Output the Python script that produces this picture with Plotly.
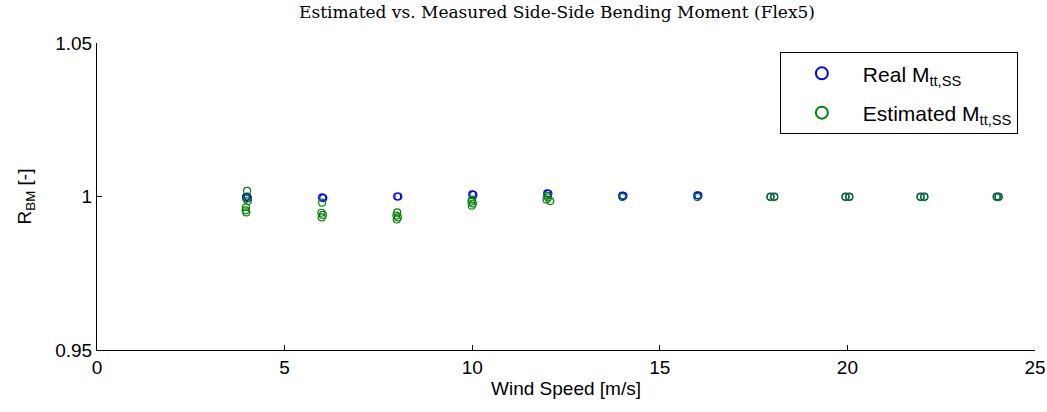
import plotly.graph_objects as go

wind_real = [3.97, 4.0, 4.02, 6.0, 6.03, 8.0, 8.03, 10.0, 10.03, 12.0, 12.03,
             14.0, 14.03, 16.0, 16.03, 17.95, 18.05, 19.95, 20.05, 21.95, 22.05, 23.98, 24.03]
r_real = [0.9998, 1.0, 0.9995, 0.9997, 0.9995, 1.0, 1.0, 1.0007, 1.0005, 1.001, 1.0009,
          1.0003, 1.0002, 1.0004, 1.0003, 1.0, 1.0, 1.0, 1.0, 1.0, 1.0, 1.0, 1.0]

wind_est = [4.0, 3.98, 4.02, 3.97, 3.96, 3.98,
            6.0, 5.98, 6.02, 5.99,
            8.0, 7.98, 8.02, 7.99,
            10.0, 9.98, 10.02, 9.99,
            12.0, 12.02, 11.98, 12.08,
            14.0, 16.0,
            17.95, 18.05, 19.95, 20.05, 21.95, 22.05, 23.98, 24.03]
r_est = [1.0018, 0.9993, 0.9985, 0.9965, 0.9955, 0.9948,
         0.998, 0.9947, 0.994, 0.9932,
         0.9948, 0.9938, 0.9932, 0.9925,
         0.999, 0.9983, 0.9977, 0.997,
         1.0003, 0.9997, 0.999, 0.9985,
         0.9998, 0.9998,
         0.9998, 0.9998, 0.9998, 0.9998, 0.9998, 0.9998, 0.9998, 0.9998]

x_ticks = [0, 5, 10, 15, 20, 25]
y_ticks = [0.95, 1.0, 1.05]
y_tick_labels = ["0.95", "1", "1.05"]

fig = go.Figure()
fig.add_trace(go.Scatter(
    x=wind_real, y=r_real, mode="markers", name="Real M<sub>tt,SS</sub>",
    legendgroup="a",
    marker=dict(symbol="circle-open", size=7, color="#0000ff", line=dict(width=1.2)),
))
fig.add_trace(go.Scatter(
    x=wind_est, y=r_est, mode="markers", name="Estimated M<sub>tt,SS</sub>",
    legendgroup="b",
    marker=dict(symbol="circle-open", size=7, color="#008000", line=dict(width=1.2)),
))

fig.update_layout(
    width=1047, height=412,
    margin=dict(l=97, r=12, t=43, b=62),
    paper_bgcolor="white", plot_bgcolor="white",
    font=dict(family="Liberation Sans, Arial", size=17, color="black"),
    title=dict(text="Estimated vs. Measured Side-Side Bending Moment (Flex5)",
               x=0.532, xanchor="center", y=0.985, yanchor="top",
               font=dict(family="DejaVu Serif, serif", size=17, color="black")),
    showlegend=True,
    legend=dict(x=0.728, xanchor="left", y=0.97, yanchor="top",
                bgcolor="white", bordercolor="black", borderwidth=1,
                font=dict(size=21), itemwidth=72, tracegroupgap=9,
                itemsizing="constant"),
    xaxis=dict(range=[0, 25], tickvals=x_ticks, showline=True, linecolor="black",
               linewidth=1, ticks="inside", ticklen=5, tickcolor="black",
               showgrid=False, zeroline=False, mirror=False, automargin=False,
               ticklabeloverflow="allow", tickfont=dict(size=19),
               title=dict(text="Wind Speed [m/s]", standoff=4, font=dict(size=19))),
    yaxis=dict(range=[0.95, 1.05], tickvals=y_ticks, ticktext=y_tick_labels,
               showline=True, linecolor="black", linewidth=1, ticks="inside",
               ticklen=5, tickcolor="black", showgrid=False, zeroline=False,
               automargin=False, ticklabeloverflow="allow", tickfont=dict(size=19),
               title=dict(text="R<sub>BM</sub> [-]", standoff=18, font=dict(size=19))),
)

fig.write_html("out.html")
